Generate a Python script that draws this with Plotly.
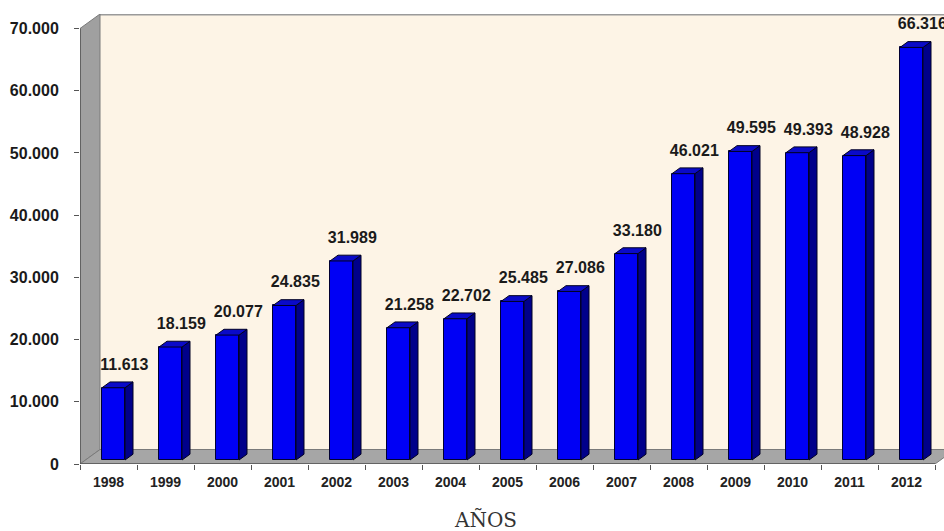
import plotly.graph_objects as go

years = ["1998", "1999", "2000", "2001", "2002", "2003", "2004", "2005",
         "2006", "2007", "2008", "2009", "2010", "2011", "2012"]
values = [11613, 18159, 20077, 24835, 31989, 21258, 22702, 25485,
          27086, 33180, 46021, 49595, 49393, 48928, 66316]
y_ticks = [0, 10000, 20000, 30000, 40000, 50000, 60000, 70000]

def fmt(v):
    return f"{v:,}".replace(",", ".")

# geometry (in axis units)
PLOT_H = 450.0
CAT_PX = 57.0
YMAX = 72330.0
u_per_px = YMAX / PLOT_H
WALL_DX = 20 / CAT_PX
WALL_DY = 14.5 * u_per_px
BAR_SHIFT_X = 5.0 / CAT_PX
BAR_BASE = 4 * u_per_px
BAR_W = 23 / CAT_PX
BAR_DX = 8 / CAT_PX
BAR_DY = 5.8 * u_per_px
n = len(years)
idx = list(range(n))
xmax = -0.5 + 864 / CAT_PX

bx = [i + BAR_SHIFT_X for i in idx]

fig = go.Figure()

fig.add_trace(go.Bar(
    x=bx, y=values, base=[BAR_BASE] * n, width=BAR_W,
    marker=dict(color="#0000F5", line=dict(color="#000033", width=1)),
    hoverinfo="skip", showlegend=False))

side_x, side_y, top_x, top_y = [], [], [], []
for xc, v in zip(bx, values):
    xl, xr = xc - BAR_W / 2, xc + BAR_W / 2
    yb, yt = BAR_BASE, BAR_BASE + v
    side_x += [xr, xr + BAR_DX, xr + BAR_DX, xr, xr, None]
    side_y += [yb, yb + BAR_DY, yt + BAR_DY, yt, yb, None]
    top_x += [xl, xl + BAR_DX, xr + BAR_DX, xr, xl, None]
    top_y += [yt, yt + BAR_DY, yt + BAR_DY, yt, yt, None]

fig.add_trace(go.Scatter(x=side_x, y=side_y, fill="toself", mode="lines",
                         fillcolor="#00008A", line=dict(color="#000022", width=1),
                         hoverinfo="skip", showlegend=False))
fig.add_trace(go.Scatter(x=top_x, y=top_y, fill="toself", mode="lines",
                         fillcolor="#0A0AC8", line=dict(color="#000022", width=1),
                         hoverinfo="skip", showlegend=False))

fig.add_trace(go.Scatter(
    x=[x + 0.19 for x in bx], y=[v + BAR_BASE + 22 * u_per_px for v in values],
    mode="text", text=[fmt(v) for v in values],
    texttemplate="<b>%{text}</b>", textposition="middle center",
    textfont=dict(family="Liberation Sans, Arial", size=16, color="#1a1a1a"),
    cliponaxis=False, hoverinfo="skip", showlegend=False))

shapes = [
    # back wall
    dict(type="rect", xref="x", yref="y", x0=-0.5 + WALL_DX, x1=xmax + 1,
         y0=WALL_DY, y1=YMAX, fillcolor="#FDF4E6", line=dict(width=0), layer="below"),
    dict(type="line", xref="x", yref="y", x0=-0.5 + WALL_DX, x1=xmax + 1,
         y0=YMAX - 0.5 * u_per_px, y1=YMAX - 0.5 * u_per_px,
         line=dict(color="#9a9a9a", width=2), layer="below"),
    # left wall
    dict(type="path", xref="x", yref="y",
         path=f"M {-0.5} 0 L {-0.5} 70000 L {-0.5 + WALL_DX} {70000 + WALL_DY} "
              f"L {-0.5 + WALL_DX} {WALL_DY} Z",
         fillcolor="#A0A0A0", line=dict(color="#7a7a7a", width=1), layer="below"),
    # floor
    dict(type="path", xref="x", yref="y",
         path=f"M {-0.5} 0 L {n - 0.5} 0 L {n - 0.5 + WALL_DX} {WALL_DY} "
              f"L {-0.5 + WALL_DX} {WALL_DY} Z",
         fillcolor="#A6A6A6", line=dict(color="#7a7a7a", width=1), layer="below"),
    # axis lines
    dict(type="line", xref="x", yref="y", x0=-0.5, x1=-0.5, y0=0, y1=70000,
         line=dict(color="#555555", width=1.5)),
    dict(type="line", xref="x", yref="y", x0=-0.5, x1=n - 0.5, y0=0, y1=0,
         line=dict(color="#555555", width=1.5)),
]

fig.update_layout(
    width=944, height=531,
    margin=dict(l=80, r=0, t=14, b=67, autoexpand=False),
    paper_bgcolor="white", plot_bgcolor="white",
    shapes=shapes, bargap=0,
    xaxis=dict(range=[-0.5, xmax], tickvals=idx, ticktext=years, ticks="",
               showgrid=False, zeroline=False, showline=False, automargin=False,
               tickfont=dict(family="Liberation Sans, Arial", size=14, color="#222222", weight="bold"),
               ticklabelstandoff=8,
               minor=dict(tickvals=[k - 0.5 for k in range(n + 1)], ticks="outside",
                          ticklen=5, tickcolor="#555555", showgrid=False)),
    yaxis=dict(range=[0, YMAX], tickvals=y_ticks, ticktext=[fmt(v) for v in y_ticks],
               ticks="outside", ticklen=5, tickcolor="#555555", automargin=False,
               showgrid=False, zeroline=False, showline=False,
               tickfont=dict(family="Liberation Sans, Arial", size=16, color="#1a1a1a", weight="bold"),
               ticklabelstandoff=12),
    annotations=[dict(text="AÑOS", xref="paper", yref="paper",
                      x=(485 - 80) / 864, y=(464 - 520) / 450,
                      xanchor="center", yanchor="middle", showarrow=False,
                      font=dict(family="DejaVu Serif", size=20, color="#333333"))],
)

fig.write_html("out.html", config={"displayModeBar": False},
               post_script="document.body.style.margin='0px';")
